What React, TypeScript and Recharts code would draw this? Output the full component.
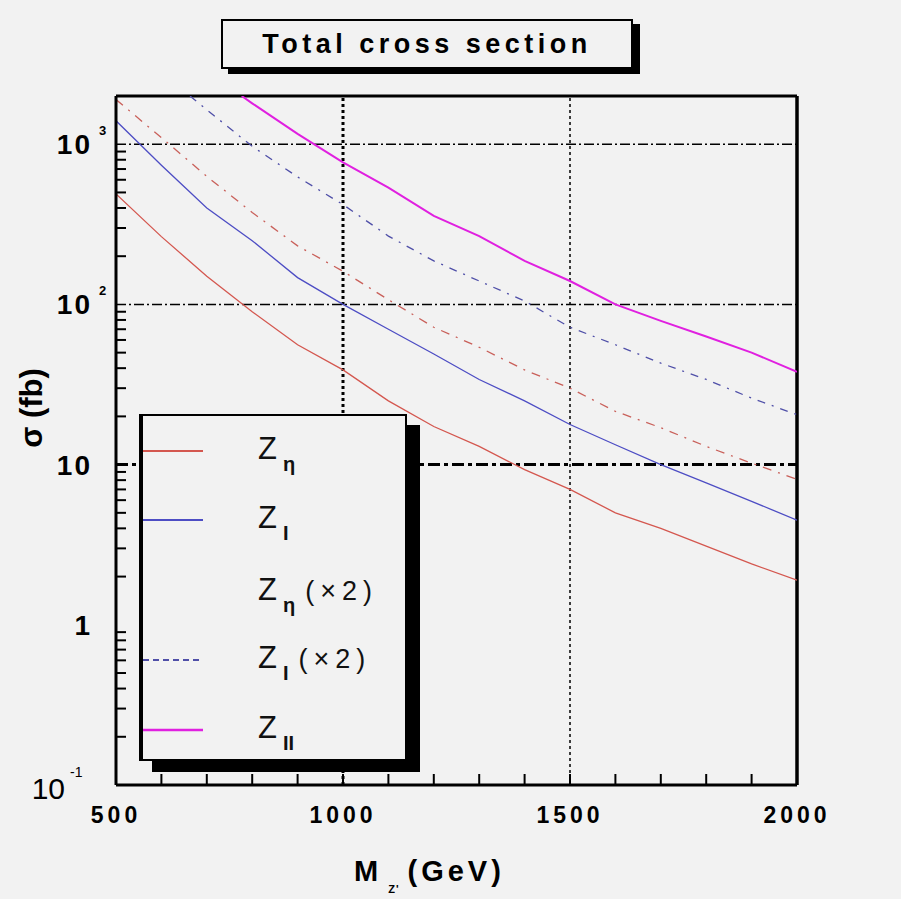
import * as React from "react";
import {
  LineChart,
  Line,
  XAxis,
  YAxis,
  ReferenceLine,
  Legend
} from "recharts";

// masses in GeV, cross sections in fb
const massGrid: number[] = [500, 600, 700, 800, 900, 1000, 1100, 1200, 1300, 1400, 1500, 1600, 1700, 1800, 1900, 2000];
const sigmaZeta: number[] = [490, 265, 150, 90, 56, 39, 25, 17.3, 13, 9.3, 7.0, 5.0, 4.0, 3.1, 2.4, 1.9];
const sigmaZi: number[] = [1400, 740, 400, 250, 147, 100, 70, 49, 34, 25, 17.8, 13.3, 10, 7.7, 5.9, 4.5];
const sigmaZeta2: number[] = [1900, 1100, 630, 375, 232, 161, 107, 72, 54, 39, 30, 21.5, 17, 13, 10.2, 8.1];

const massZi2: number[] = [663, 700, 800, 900, 1000, 1100, 1200, 1300, 1400, 1500, 1600, 1700, 1800, 1900, 2000];
const sigmaZi2: number[] = [2000, 1640, 970, 625, 420, 267, 187, 140, 105, 72, 56, 43, 34, 26, 20.5];

const massZii: number[] = [777, 800, 900, 1000, 1100, 1200, 1300, 1400, 1500, 1600, 1700, 1800, 1900, 2000];
const sigmaZii: number[] = [2000, 1800, 1160, 770, 536, 357, 267, 187, 140, 100, 79, 63, 50, 38];

const xMajor: number[] = [500, 1000, 1500, 2000];
const xTicks: number[] = [500, 600, 700, 800, 900, 1000, 1100, 1200, 1300, 1400, 1500, 1600, 1700, 1800, 1900, 2000];
const yMajor: number[] = [0.1, 1, 10, 100, 1000];
const yTicks: number[] = [
  0.1, 0.2, 0.3, 0.4, 0.5, 0.6, 0.7, 0.8, 0.9,
  1, 2, 3, 4, 5, 6, 7, 8, 9,
  10, 20, 30, 40, 50, 60, 70, 80, 90,
  100, 200, 300, 400, 500, 600, 700, 800, 900,
  1000
];

const zip = (m: number[], s: number[]) => m.map((v, i) => ({ m: v, s: s[i] }));

const series = [
  { key: "eta", sym: "η", extra: "", data: zip(massGrid, sigmaZeta), color: "#d4574f", dash: undefined, width: 1.3, sample: true },
  { key: "i", sym: "I", extra: "", data: zip(massGrid, sigmaZi), color: "#4d4dc4", dash: undefined, width: 1.3, sample: true },
  { key: "eta2", sym: "η", extra: "(×2)", data: zip(massGrid, sigmaZeta2), color: "#c9605a", dash: "9 7 2 7", width: 1.3, sample: false },
  { key: "i2", sym: "I", extra: "(×2)", data: zip(massZi2, sigmaZi2), color: "#4f4fa8", dash: "8 7 2 7", width: 1.3, sample: true },
  { key: "ii", sym: "II", extra: "", data: zip(massZii, sigmaZii), color: "#e020e0", dash: undefined, width: 2, sample: true }
];

const font = "'Liberation Sans', Arial, sans-serif";
const bg = "#f2f2f2";

const supOf: Record<number, string> = { 1000: "3", 100: "2" };

const YTick = (props: any) => {
  const { x, y, payload } = props;
  const v = payload.value;
  if (!yMajor.includes(v)) {
    return <line x1={x} x2={x + 10} y1={y} y2={y} stroke="#000" strokeWidth={2} />;
  }
  if (v === 1) {
    return (
      <text x={x - 26} y={y + 10} textAnchor="end" fontFamily={font} fontWeight="bold" fontSize={28}>1</text>
    );
  }
  if (v === 10) {
    return (
      <text x={x - 24} y={y + 10} textAnchor="end" fontFamily={font} fontWeight="bold" fontSize={28} letterSpacing={2}>10</text>
    );
  }
  if (v === 0.1) {
    return (
      <g>
        <text x={x - 51} y={y + 14} textAnchor="end" fontFamily={font} fontSize={30}>10</text>
        <text x={x - 46} y={y - 8} fontFamily={font} fontSize={14}>-1</text>
      </g>
    );
  }
  return (
    <g>
      <text x={x - 24} y={y + 10} textAnchor="end" fontFamily={font} fontWeight="bold" fontSize={28} letterSpacing={2}>10</text>
      <text x={x - 17} y={y - 9} fontFamily={font} fontWeight="bold" fontSize={13}>{supOf[v]}</text>
    </g>
  );
};

const XTick = (props: any) => {
  const { x, y, payload } = props;
  const v = payload.value;
  return (
    <g>
      {v !== 500 && v !== 2000 && (
        <line x1={x} x2={x} y1={y} y2={y - 11} stroke="#000" strokeWidth={2} />
      )}
      {xMajor.includes(v) && (
        <text x={x} y={y + 38} textAnchor="middle" fontFamily={font} fontWeight="bold" fontSize={23} letterSpacing={4}>
          {v}
        </text>
      )}
    </g>
  );
};

const LegendBox = () => (
  <div
    style={{
      position: "relative",
      width: 268,
      height: 347,
      boxSizing: "border-box",
      border: "2px solid #000",
      borderLeft: "4px solid #000",
      background: bg,
      boxShadow: "13px 11px 0 0 #000",
      fontFamily: font
    }}
  >
    {series.map((s, i) => {
      const rowY = [35, 104, 176, 244, 314][i];
      return (
        <div key={s.key} style={{ position: "absolute", left: 0, top: rowY - 20, height: 40, width: 260 }}>
          {s.sample && (
            <svg width={60} height={4} style={{ position: "absolute", left: 0, top: 18 }}>
              <line x1={0} x2={60} y1={2} y2={2} stroke={s.color} strokeWidth={s.width + 0.5} strokeDasharray={s.dash ? "6 4" : undefined} />
            </svg>
          )}
          <div style={{ position: "absolute", left: 115, top: 0, whiteSpace: "nowrap", color: "#111" }}>
            <span style={{ fontSize: 31 }}>Z</span>
            <span style={{ fontSize: 20, fontWeight: "bold", position: "relative", top: 12, marginLeft: 6 }}>{s.sym}</span>
            {s.extra && (
              <span style={{ fontSize: 27, marginLeft: 10, letterSpacing: 6 }}>{s.extra}</span>
            )}
          </div>
        </div>
      );
    })}
  </div>
);

export default function App() {
  return (
    <div style={{ position: "absolute", left: 0, top: 0, width: 901, height: 899, background: bg, fontFamily: font }}>
      <LineChart width={901} height={899} margin={{ top: 96, right: 104, bottom: 0, left: 0 }}>
        <XAxis
          type="number"
          dataKey="m"
          domain={[500, 2000]}
          allowDataOverflow
          ticks={xTicks}
          interval={0}
          height={114}
          tickSize={0}
          tickMargin={0}
          tickLine={false}
          tick={<XTick />}
          axisLine={{ stroke: "#000", strokeWidth: 3 }}
        />
        <YAxis
          type="number"
          scale="log"
          dataKey="s"
          domain={[0.1, 2000]}
          allowDataOverflow
          ticks={yTicks}
          interval={0}
          width={116}
          tickSize={0}
          tickMargin={0}
          tickLine={false}
          tick={<YTick />}
          axisLine={{ stroke: "#000", strokeWidth: 3 }}
        />
        <ReferenceLine y={1000} stroke="#000" strokeWidth={1.5} strokeDasharray="10 3 2 3" />
        <ReferenceLine y={100} stroke="#000" strokeWidth={1.5} strokeDasharray="10 3 2 3" />
        <ReferenceLine y={10} stroke="#000" strokeWidth={3} strokeDasharray="12 4 4 4" />
        <ReferenceLine x={1000} stroke="#000" strokeWidth={3} strokeDasharray="3 3" />
        <ReferenceLine x={1500} stroke="#000" strokeWidth={1.5} strokeDasharray="3 3" />
        <ReferenceLine y={2000} stroke="#000" strokeWidth={3} />
        <ReferenceLine x={2000} stroke="#000" strokeWidth={3.5} />
        {series.map(s => (
          <Line
            key={s.key}
            data={s.data}
            dataKey="s"
            name={s.key}
            type="linear"
            stroke={s.color}
            strokeWidth={s.width}
            strokeDasharray={s.dash}
            dot={false}
            isAnimationActive={false}
          />
        ))}
        <Legend
          layout="vertical"
          align="center"
          verticalAlign="middle"
          content={() => <LegendBox />}
          wrapperStyle={{ left: 139, top: 414, width: 268, height: 347 }}
        />
      </LineChart>

      <div
        style={{
          position: "absolute",
          left: 221,
          top: 19,
          width: 412,
          height: 50,
          boxSizing: "border-box",
          border: "2px solid #000",
          boxShadow: "7px 5px 0 0 #000",
          background: bg,
          textAlign: "center",
          lineHeight: "46px",
          fontSize: 27,
          fontWeight: "bold",
          letterSpacing: 4.5
        }}
      >
        Total cross section
      </div>

      <div
        style={{
          position: "absolute",
          left: 32,
          top: 408,
          transform: "translate(-50%, -50%) rotate(-90deg)",
          whiteSpace: "nowrap",
          fontSize: 31,
          fontWeight: "bold"
        }}
      >
        σ (fb)
      </div>

      <div
        style={{
          position: "absolute",
          left: 354,
          top: 855,
          whiteSpace: "nowrap",
          fontSize: 29,
          fontWeight: "bold",
          letterSpacing: 4
        }}
      >
        M
        <span style={{ fontSize: 11, position: "relative", top: 12, margin: "0 8px 0 6px", letterSpacing: 1 }}>Z'</span>
        (GeV)
      </div>
    </div>
  );
}
